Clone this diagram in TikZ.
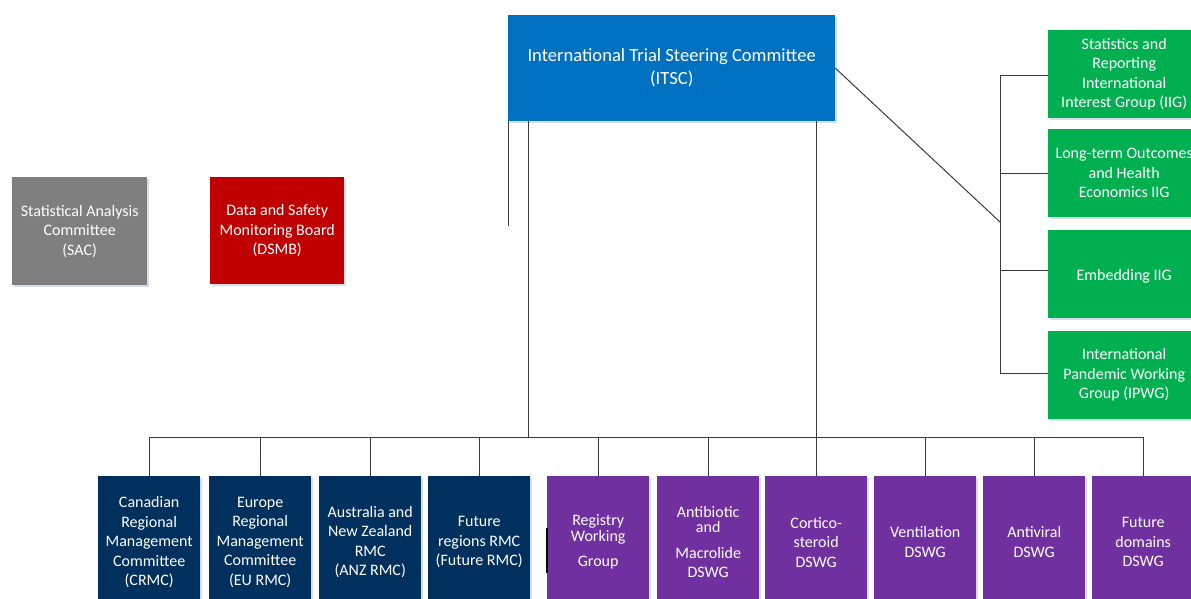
\documentclass[tikz,border=0pt]{standalone}
\usepackage{fontspec}
\setmainfont{Carlito}
\usetikzlibrary{shadows}
\definecolor{itscblue}{HTML}{0070C0}
\definecolor{sacgray}{HTML}{7F7F7F}
\definecolor{dsmbred}{HTML}{C00000}
\definecolor{iiggreen}{HTML}{00B050}
\definecolor{rmcnavy}{HTML}{00305E}
\definecolor{dswgpurple}{HTML}{7030A0}
\definecolor{linegray}{HTML}{3A3A3A}
\definecolor{shadowblue}{HTML}{C9D6E8}
\begin{document}
\begin{tikzpicture}[x=1pt,y=-1pt,
  box/.style={anchor=north west, inner sep=0pt, align=center, text=white,
    font=\fontsize{16}{19.5}\selectfont,
    execute at begin node={\rule{0pt}{16pt}},
    drop shadow={shadow xshift=1.5pt, shadow yshift=-1.5pt, fill=shadowblue, opacity=0.8}},
  rmc/.style={box, fill=rmcnavy, minimum width=102pt, minimum height=132pt},
  dswg/.style={box, fill=dswgpurple, minimum width=102pt, minimum height=132pt},
  iig/.style={box, fill=iiggreen, minimum width=152pt, minimum height=88pt},
  link/.style={draw=linegray, line width=1pt}]
\useasboundingbox (0,0) rectangle (1191,598);

% steering committee
\node[box, fill=itscblue, minimum width=327pt, minimum height=106pt,
  font=\fontsize{18.6}{23}\selectfont,
  execute at begin node={\rule{0pt}{20pt}}] (itsc) at (508,15)
  {International Trial Steering Committee\\(ITSC)};

% independent committees
\node[box, fill=sacgray, minimum width=135pt, minimum height=108pt] (sac) at (12,177)
  {Statistical Analysis\\Committee\\(SAC)};
\node[box, fill=dsmbred, minimum width=134pt, minimum height=107pt] (dsmb) at (210,177)
  {Data and Safety\\Monitoring Board\\(DSMB)};

% interest groups
\node[iig] (g1) at (1048,30) {Statistics and\\Reporting\\International\\Interest Group (IIG)};
\node[iig] (g2) at (1048,129) {Long-term Outcomes\\and Health\\Economics IIG};
\node[iig] (g3) at (1048,230) {Embedding IIG};
\node[iig] (g4) at (1048,331) {International\\Pandemic Working\\Group (IPWG)};

% regional management committees
\node[rmc] (crmc) at (98,476) {Canadian\\Regional\\Management\\Committee\\(CRMC)};
\node[rmc] (eurmc) at (209,476) {Europe\\Regional\\Management\\Committee\\(EU RMC)};
\node[rmc] (anzrmc) at (319,476) {Australia and\\New Zealand\\RMC\\(ANZ RMC)};
\node[rmc] (futrmc) at (428,476) {Future\\regions RMC\\(Future RMC)};

% working groups
\node[dswg] (reg) at (547,476) {Registry\\[-3.5pt]Working\\[5.5pt]Group};
\node[dswg] (abx) at (657,476) {Antibiotic\\[-4.5pt]and\\[6.5pt]Macrolide\\DSWG};
\node[dswg] (cort) at (765,476) {Cortico-\\steroid\\DSWG};
\node[dswg] (vent) at (874,476) {Ventilation\\DSWG};
\node[dswg] (avir) at (983,476) {Antiviral\\DSWG};
\node[dswg] (fdom) at (1092,476) {Future\\domains\\DSWG};

% connectors
\coordinate (busL) at (149,437);
\coordinate (busR) at (1143,437);
\coordinate (hub) at (1000,222);
\coordinate (stub) at (508,226);

\path[link] (itsc.south west) -- (stub);
\path[link] ([xshift=20pt]itsc.south west) -- ([xshift=20pt]itsc.south west |- busL);
\path[link] (cort.north) -- (cort.north |- itsc.south);
\path[link] (busL) -- (busR);
\foreach \n in {crmc,eurmc,anzrmc,futrmc,reg,abx,vent,avir,fdom}
  \path[link] (\n.north) -- (\n.north |- busL);

\path[link] (itsc.east) -- (hub);
\path[link] ([yshift=-1pt]g1.west -| hub) -- ([yshift=1.5pt]g4.west -| hub);
\path[link] ([yshift=-1pt]g1.west -| hub) -- ([yshift=-1pt]g1.west);
\path[link] (g2.west -| hub) -- (g2.west);
\path[link] ([yshift=4pt]g3.west -| hub) -- ([yshift=4pt]g3.west);
\path[link] ([yshift=1.5pt]g4.west -| hub) -- ([yshift=1.5pt]g4.west);

% short mark on the registry box edge
\path[draw=black, line width=1.5pt] ([yshift=14pt]reg.west) -- ([yshift=-31pt]reg.west);
\end{tikzpicture}
\end{document}
